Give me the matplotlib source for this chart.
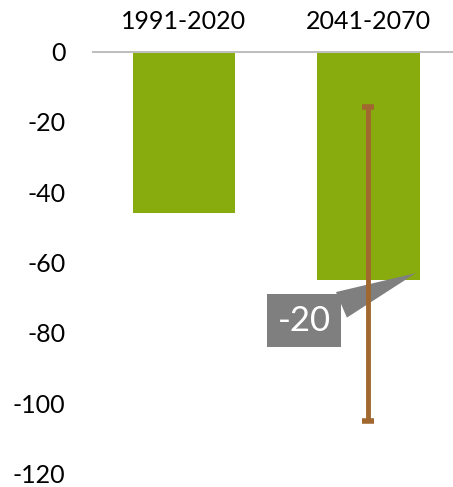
import numpy as np
import matplotlib.pyplot as plt

# Dati
periodi = ['1991-2020', '2041-2070']
valori = [-46, -65]
err_min = [None, -105]
err_max = [None, -16]
etichetta = '-20'
tick_y = [0, -20, -40, -60, -80, -100, -120]

verde = '#88AC0D'
marrone = '#A0682F'
grigio = '#7F7F7F'

plt.rcParams['font.family'] = ['Lato', 'DejaVu Sans']

fig = plt.figure(figsize=(4.53, 4.87), dpi=100)
ax = fig.add_axes([0.203, 0.027, 0.797, 0.868])

x = np.arange(len(periodi))
ax.bar(x, valori, width=0.553, color=verde, zorder=2)

# barra d'errore solo per il secondo periodo
yerr = [[valori[1] - err_min[1]], [err_max[1] - valori[1]]]
ax.errorbar([x[1]], [valori[1]], yerr=yerr, fmt='none', ecolor=marrone,
            elinewidth=3.5, capsize=4.5, capthick=4, zorder=4)

# etichetta con fumetto
ax.annotate(etichetta, xy=(x[1] + 0.257, -63), xytext=(0.653, -76.5),
            textcoords='data', ha='center', va='center', fontsize=25,
            color='white',
            bbox=dict(boxstyle='square,pad=0.3', fc=grigio, ec='none'),
            arrowprops=dict(arrowstyle='wedge,tail_width=0.8', fc=grigio,
                            ec='none', shrinkA=0, shrinkB=0),
            zorder=3)

ax.set_xlim(-0.4986, 1.458)
ax.set_ylim(-120, 0)
ax.axhline(0, color='#BFBFBF', lw=2.2, zorder=3)

ax.xaxis.tick_top()
ax.set_xticks(x)
ax.set_xticklabels(periodi, fontsize=18)
ax.tick_params(axis='x', length=0, pad=13)
ax.set_yticks(tick_y)
ax.set_yticklabels([str(t) for t in tick_y], fontsize=18)
ax.tick_params(axis='y', length=0, pad=19)

for s in ax.spines.values():
    s.set_visible(False)

fig.savefig('out.png', dpi=100)
